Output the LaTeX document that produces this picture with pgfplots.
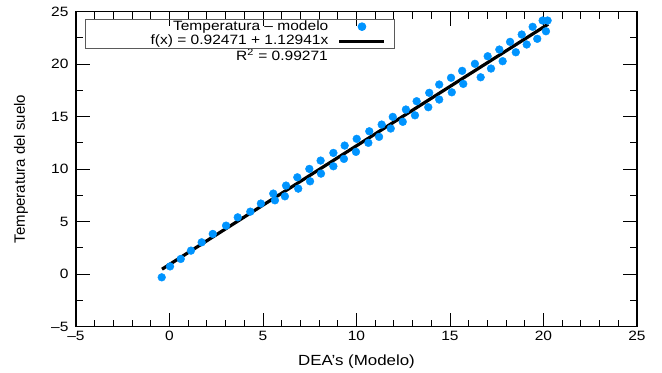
\documentclass[border=0pt]{standalone}
\usepackage{fontspec}
\setmainfont{Liberation Sans}[FakeStretch=1.15]
\newfontfamily\plainsans{Liberation Sans}
\usepackage{pgfplots}
\pgfplotsset{compat=1.18}
\definecolor{dotblue}{RGB}{0,148,255}
\definecolor{boxgray}{RGB}{90,90,90}

% Temperatura del suelo vs. DEA's (Modelo)
\pgfplotstableread{
x y
-0.416 -0.30
0.029 0.74
0.602 1.45
1.147 2.24
1.720 3.03
2.314 3.83
3.026 4.62
3.649 5.41
4.322 5.95
4.886 6.72
5.549 7.67
5.638 7.03
6.172 7.41
6.232 8.43
6.835 9.22
6.884 8.14
7.478 10.02
7.518 8.84
8.081 10.81
8.101 9.57
8.764 11.54
8.764 10.27
9.367 12.24
9.328 10.97
10.011 12.88
9.971 11.64
10.684 13.60
10.634 12.50
11.346 14.24
11.208 13.07
11.940 14.97
11.831 13.86
12.642 15.67
12.474 14.50
13.216 16.46
13.127 15.12
13.889 17.26
13.839 15.89
14.423 18.05
14.423 16.62
15.056 18.69
15.095 17.31
15.650 19.35
15.709 18.11
16.332 20.02
16.639 18.74
17.015 20.74
17.193 19.57
17.638 21.38
17.816 20.27
18.212 22.11
18.519 21.12
18.835 22.81
19.102 21.86
19.419 23.54
19.666 22.40
19.953 24.14
20.131 23.12
20.220 24.14
}\datatable

\pgfplotsset{
  dotlegend/.style={legend image code/.code={
    \draw[mark repeat=2,mark phase=2,##1] plot coordinates {(0bp,0bp)(22.5bp,0bp)(45bp,0bp)};
    \path (53bp,0bp);}},
  linelegend/.style={legend image code/.code={
    \draw[##1] (0bp,0bp) -- (45bp,0bp);
    \path (53bp,0bp);}},
}

\begin{document}
\begin{tikzpicture}
\begin{axis}[
  at={(0,0)}, anchor=south west,
  scale only axis, width=561bp, height=315.2bp,
  xmin=-5, xmax=25, ymin=-5, ymax=25,
  xtick={-5,0,...,25}, xticklabels={–5,0,5,10,15,20,25},
  ytick={-5,0,...,25}, yticklabels={–5,0,5,10,15,20,25},
  minor x tick num=4, minor y tick num=1,
  tick align=inside,
  major tick length=14bp, minor tick length=7bp,
  tick style={black, line width=0.9bp},
  axis line style={black, line width=1.1bp},
  font=\fontsize{13.5bp}{16bp}\selectfont,
  xticklabel style={yshift=-1bp},
  yticklabel style={xshift=-4bp},
  xlabel={DEA's (Modelo)},
  ylabel={Temperatura del suelo},
  xlabel style={at={(axis description cs:0.5,-0.112)}, anchor=center,
    font=\fontsize{14.7bp}{17bp}\selectfont},
  ylabel style={at={(axis description cs:-0.098,0.5)}, anchor=center,
    font=\plainsans\fontsize{15bp}{17bp}\selectfont},
  legend plot pos=right,
  legend cell align=right,
  legend style={at={(axis description cs:0.016,0.9762)}, anchor=north west,
    draw=boxgray, line width=0.8bp, fill=none, inner sep=0pt, row sep=0pt,
    column sep=8bp,
    nodes={inner sep=1.5bp, text height=9.5bp, text depth=2bp}},
]
\addplot[only marks, mark=*, mark size=3.9bp, color=dotblue,
  mark options={draw=none, fill=dotblue}, dotlegend]
  table[x=x, y=y] {\datatable};
\addlegendentry{\makebox[241.5bp][r]{Temperatura – modelo}}
% least-squares line f(x) = 0.92471 + 1.12941x over the data range
\addplot[black, line width=3.2bp, linelegend]
  coordinates {(-0.40,0.473) (20.25,23.796)};
\addlegendentry{\makebox[241.5bp][r]{f(x) = 0.92471 + 1.12941x}}
\node[anchor=base east, inner sep=0pt] at (axis description cs:0.4492,0.843)
  {R\textsuperscript{2} = 0.99271};
\end{axis}
\pgfresetboundingbox
\path[use as bounding box] (-76bp,-46.3bp) rectangle (586bp,326.7bp);
\end{tikzpicture}
\end{document}
